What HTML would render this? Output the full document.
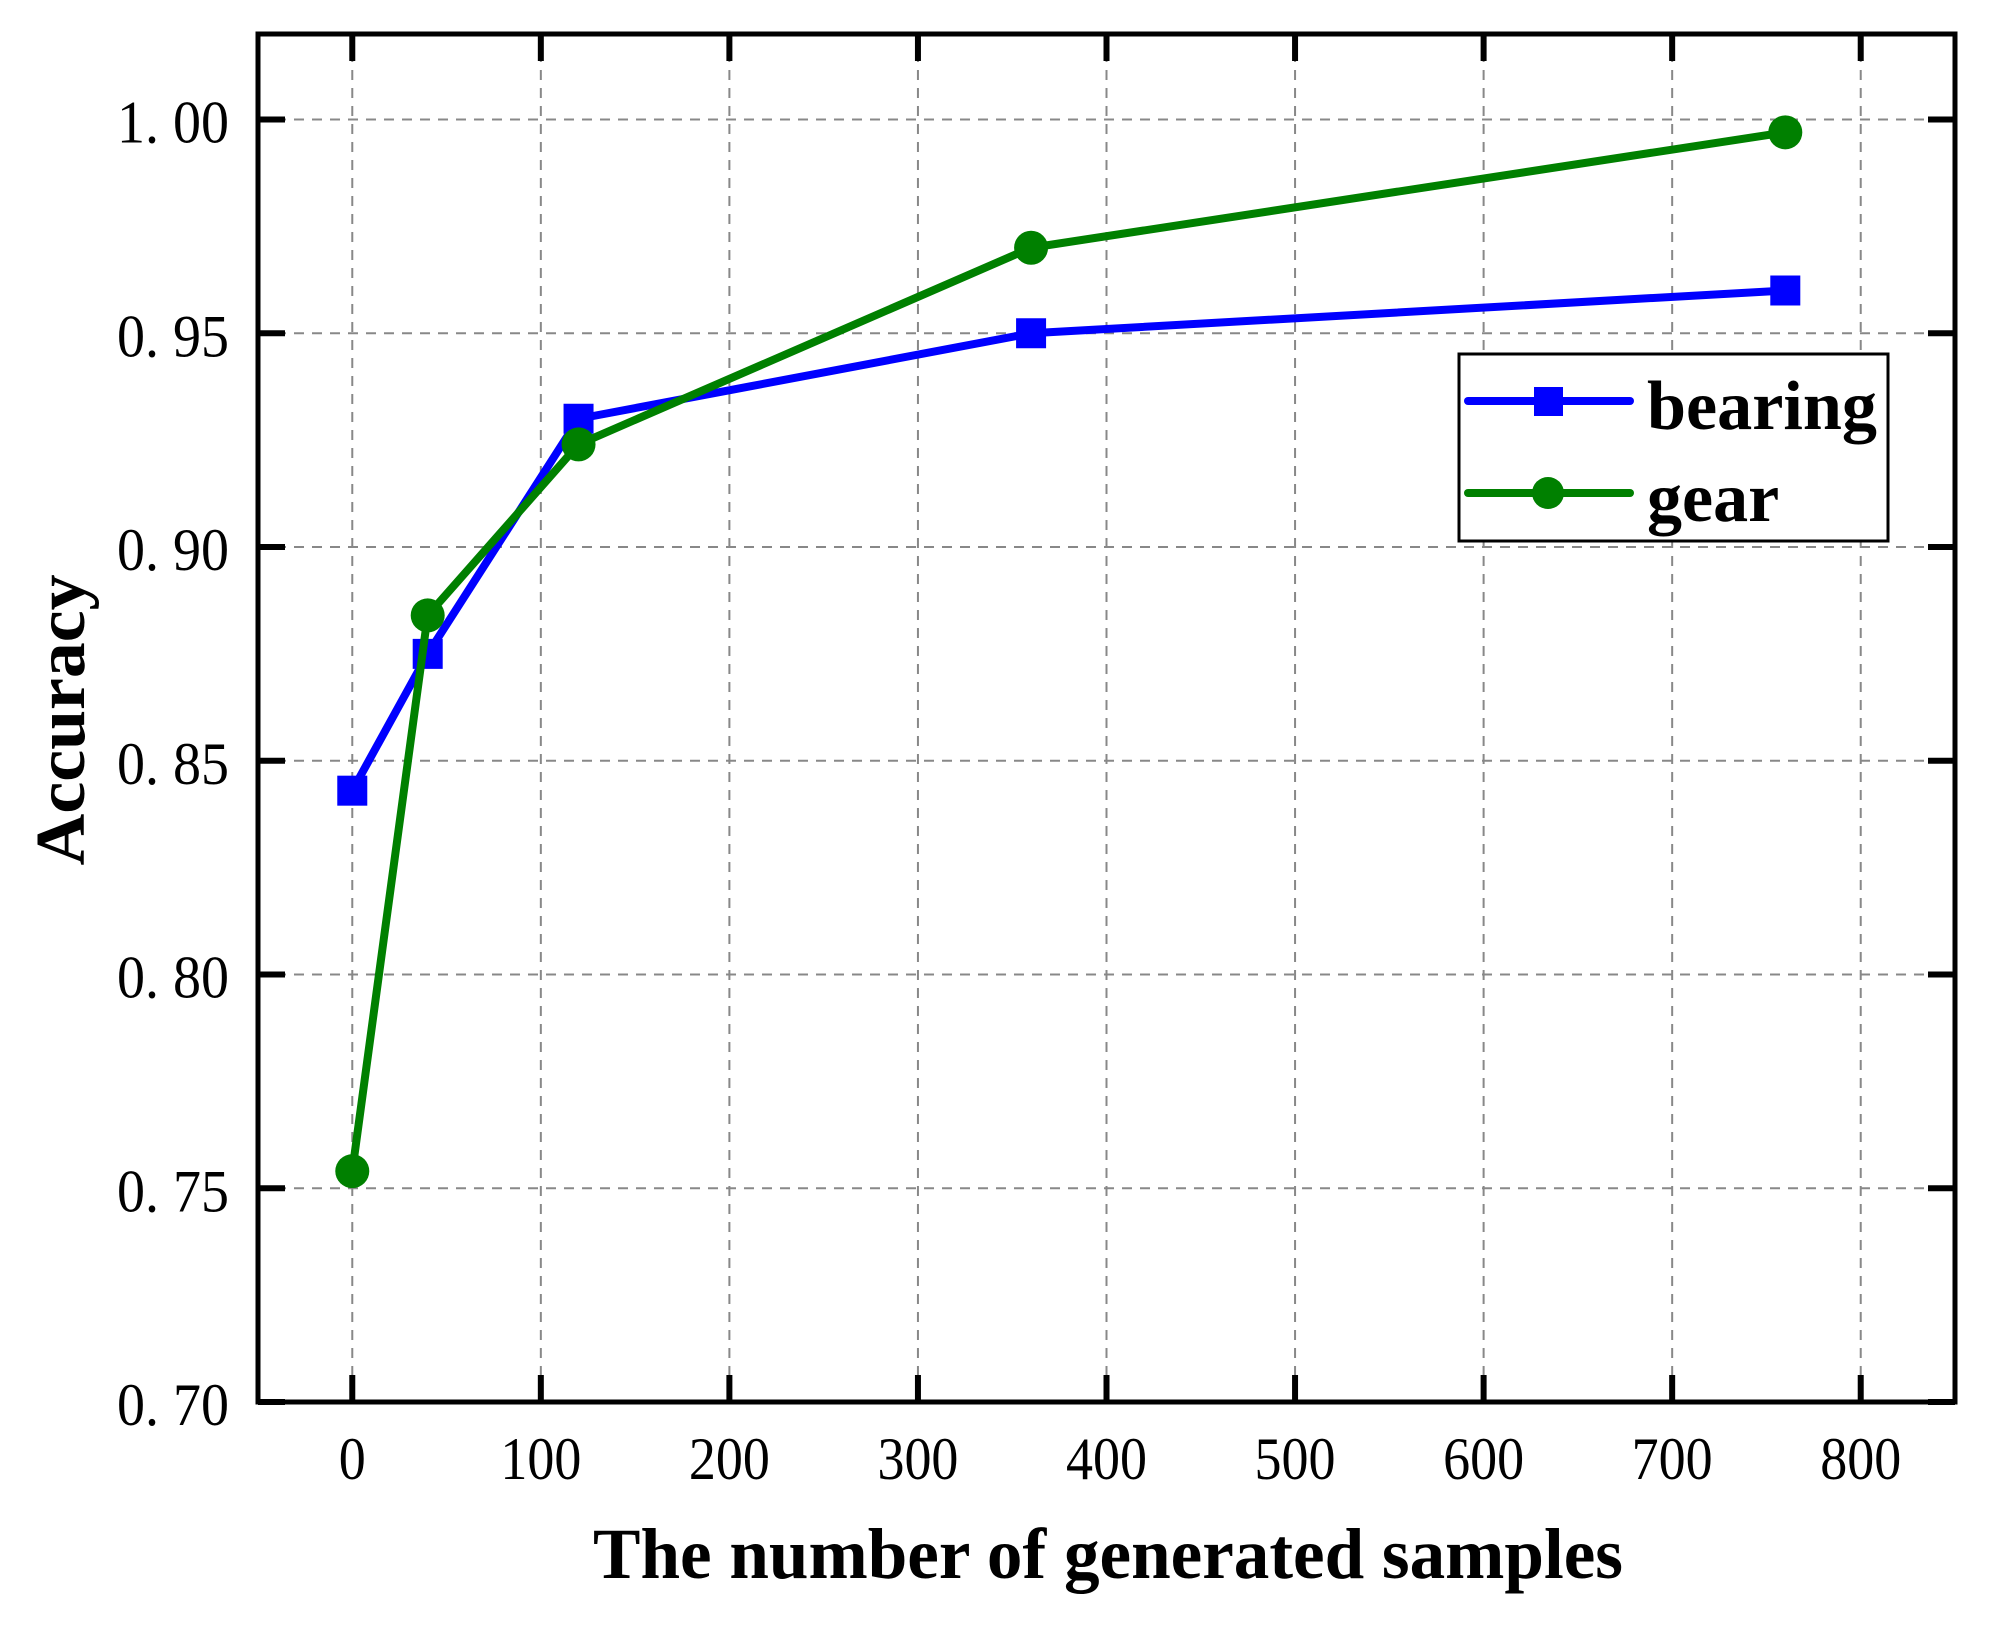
<!DOCTYPE html>
<html><head><meta charset="utf-8"><style>
html,body{margin:0;padding:0;background:#fff}
svg{display:block}
text{font-family:"Liberation Serif","Noto Serif CJK SC",serif}
</style></head><body>
<svg id="chart" width="1999" height="1626" viewBox="0 0 1999 1626" xmlns="http://www.w3.org/2000/svg">
<g id="grid"></g>
<g id="series"></g>
<g id="axes"></g>
<text x="1108" y="1578" font-size="72" font-weight="bold" text-anchor="middle" textLength="1030" lengthAdjust="spacingAndGlyphs">The number of generated samples</text>
<text transform="translate(84,720) rotate(-90)" font-size="70" font-weight="bold" text-anchor="middle" textLength="291" lengthAdjust="spacingAndGlyphs">Accuracy</text>
<g>
<rect x="1459" y="354" width="429" height="187" fill="#fff" stroke="#000" stroke-width="3"/>
<g>
<line x1="1468" y1="401" x2="1630" y2="401" stroke="#0000ff" stroke-width="8" stroke-linecap="round"/>
<rect x="1534" y="387" width="29" height="29" fill="#0000ff"/>
<text x="1647" y="429" font-size="70" font-weight="bold" textLength="230" lengthAdjust="spacingAndGlyphs">bearing</text>
</g>
<g>
<line x1="1468" y1="493" x2="1630" y2="493" stroke="#008000" stroke-width="8" stroke-linecap="round"/>
<circle cx="1548" cy="493" r="16" fill="#008000"/>
<text x="1647" y="521" font-size="70" font-weight="bold">gear</text>
</g>
</g>
</svg>
<script>
const categories = [0, 40, 120, 360, 760];
const bearingValues = [0.843, 0.875, 0.930, 0.950, 0.960];
const gearValues = [0.754, 0.884, 0.924, 0.970, 0.997];
const xTicks = [0, 100, 200, 300, 400, 500, 600, 700, 800];
const yTicks = [0.70, 0.75, 0.80, 0.85, 0.90, 0.95, 1.00];
const yTickLabels = ["0. 70", "0. 75", "0. 80", "0. 85", "0. 90", "0. 95", "1. 00"];

const L = 258, R = 1955, T = 34, B = 1402;
const xMin = -50, xMax = 850, yMin = 0.70, yMax = 1.02;
function xs(v){ return L + (v - xMin) / (xMax - xMin) * (R - L); }
function ys(v){ return B - (v - yMin) / (yMax - yMin) * (B - T); }
const NS = "http://www.w3.org/2000/svg";
function mk(tag, attrs, parent){
  const e = document.createElementNS(NS, tag);
  for (const k in attrs) e.setAttribute(k, attrs[k]);
  parent.appendChild(e); return e;
}
const grid = document.getElementById('grid');
const axes = document.getElementById('axes');
const series = document.getElementById('series');

xTicks.forEach(t => {
  const x = xs(t);
  const g = mk('line', {x1:x, y1:T, x2:x, y2:B, stroke:'#888', 'stroke-width':2, 'stroke-dasharray':'10 8'}, grid);
  
  
  const t1 = mk('line', {x1:x, y1:B, x2:x, y2:B-27, stroke:'#000', 'stroke-width':6}, axes);
  
  
  const t2 = mk('line', {x1:x, y1:T, x2:x, y2:T+27, stroke:'#000', 'stroke-width':6}, axes);
  
  
  const lb = mk('text', {x:x, y:1479, 'font-size':60, 'text-anchor':'middle', transform:'translate('+x+',1479) scale(0.9,1) translate('+(-x)+',-1479)'}, axes);
  lb.textContent = String(t);
  
  
});
yTicks.forEach((t, i) => {
  const y = ys(t);
  if (i > 0) {
    const g = mk('line', {x1:L, y1:y, x2:R, y2:y, stroke:'#888', 'stroke-width':2, 'stroke-dasharray':'10 8'}, grid);
    
    
  }
  const t1 = mk('line', {x1:L, y1:y, x2:L+27, y2:y, stroke:'#000', 'stroke-width':6}, axes);
  
  
  const t2 = mk('line', {x1:R, y1:y, x2:R-27, y2:y, stroke:'#000', 'stroke-width':6}, axes);
  
  
  const lb = mk('text', {x:229, y:y+23, 'font-size':60, 'text-anchor':'end', textLength:112, lengthAdjust:'spacingAndGlyphs'}, axes);
  lb.textContent = yTickLabels[i];
  
  
});
const frame = mk('rect', {x:L, y:T, width:R-L, height:B-T, fill:'none', stroke:'#000', 'stroke-width':5}, axes);



function drawSeries(vals, color, shape, name){
  const pts = categories.map((c, i) => xs(c) + ',' + ys(vals[i])).join(' ');
  const pl = mk('polyline', {points:pts, fill:'none', stroke:color, 'stroke-width':8, 'stroke-linejoin':'round'}, series);
  
  
  categories.forEach((c, i) => {
    const x = xs(c), y = ys(vals[i]);
    let m;
    if (shape === 'square') m = mk('rect', {x:x-15, y:y-15, width:30, height:30, fill:color}, series);
    else m = mk('circle', {cx:x, cy:y, r:17, fill:color}, series);
    
    
  });
}
drawSeries(bearingValues, '#0000ff', 'square', 'bearing');
drawSeries(gearValues, '#008000', 'circle', 'gear');
</script>
</body></html>
